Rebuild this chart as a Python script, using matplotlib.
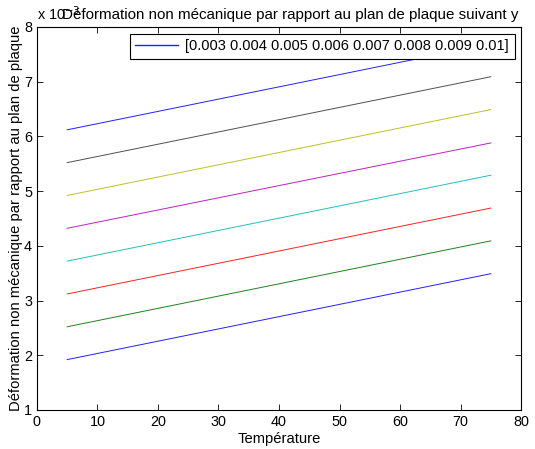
import numpy as np
import matplotlib
matplotlib.use("Agg")
import matplotlib.pyplot as plt
from matplotlib.ticker import FuncFormatter

plt.rcParams['font.family'] = ['Liberation Sans', 'DejaVu Sans']

# temperatures (end points of each line)
temperature = [5, 75]
# deformation values, one line per coefficient
deformation = [
    [1.92e-3, 3.49e-3],
    [2.52e-3, 4.09e-3],
    [3.12e-3, 4.69e-3],
    [3.72e-3, 5.29e-3],
    [4.32e-3, 5.88e-3],
    [4.92e-3, 6.49e-3],
    [5.52e-3, 7.09e-3],
    [6.12e-3, 7.69e-3],
]
legend_label = "[0.003 0.004 0.005 0.006 0.007 0.008 0.009 0.01]"
colors = ['#2020ff', '#208020', '#ff2020', '#20c0c0', '#c020c0', '#c0c020', '#505050', '#2020ff']

fig = plt.figure(figsize=(5.35, 4.49), dpi=100)
ax = fig.add_axes([0.069, 0.087, 0.905, 0.853])

lines = []
for i, d in enumerate(deformation):
    lines += ax.plot(temperature, d, color=colors[i], lw=0.7)

ax.set_xlim(0, 80)
ax.set_ylim(1e-3, 8e-3)
ax.set_xticks(np.arange(0, 81, 10))
ax.set_yticks(np.arange(1, 9) * 1e-3)
ax.yaxis.set_major_formatter(FuncFormatter(lambda v, p: f"{v * 1e3:g}"))
ax.tick_params(direction='in', top=True, right=True, labelsize=10.4, length=4, width=0.6)
for s in ax.spines.values():
    s.set_linewidth(0.8)

ax.set_xlabel("Température", fontsize=10.6, labelpad=2)
ax.set_ylabel("Déformation non mécanique par rapport au plan de plaque", fontsize=10.6, labelpad=1)
ax.set_title("Déformation non mécanique par rapport au plan de plaque suivant y",
             fontsize=10.9, pad=6, x=0.523)
ax.text(0.0, 1.01, "x 10$^{-3}$", transform=ax.transAxes, fontsize=10.4, ha='left', va='bottom')

leg = ax.legend([lines[0]], [legend_label], loc='upper right', fontsize=10.5,
                fancybox=False, edgecolor='black', framealpha=1,
                handlelength=2.9, handletextpad=0.5,
                borderaxespad=0.45, borderpad=0.4)
leg.get_frame().set_linewidth(0.8)
leg.get_lines()[0].set_linewidth(1.0)

fig.savefig("out.png", dpi=100)
